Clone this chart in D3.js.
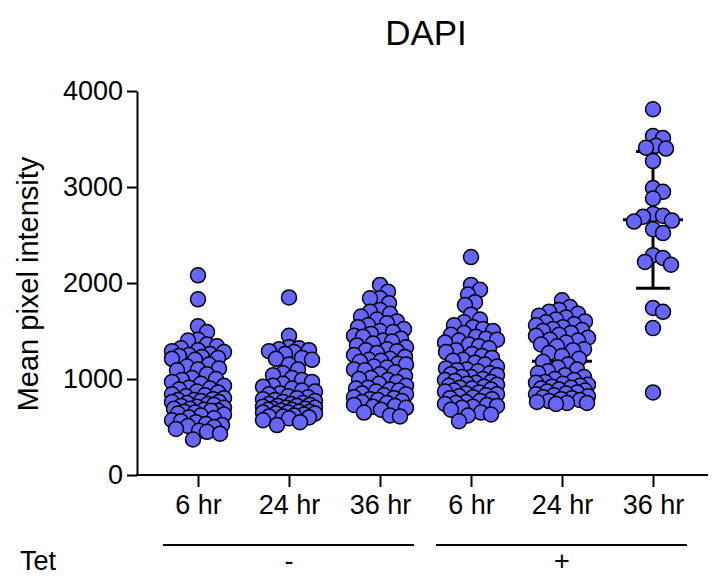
<!DOCTYPE html>
<html>
<head>
<meta charset="utf-8">
<script src="https://cdn.jsdelivr.net/npm/d3@7"></script>
<style>
  html, body { margin: 0; padding: 0; background: #ffffff; }
  svg { display: block; font-family: "Liberation Sans", Arial, Helvetica, sans-serif; }
</style>
</head>
<body>
<svg id="chart" width="712" height="577"></svg>
<script>
// Time points along the x axis, and the Tet condition each belongs to
const timeLabels = ["6 hr", "24 hr", "36 hr", "6 hr", "24 hr", "36 hr"];
const tetGroups = [
  { label: "-", from: 0, to: 2 },
  { label: "+", from: 3, to: 5 }
];
const yTicks = [0, 1000, 2000, 3000, 4000];

// Mean pixel intensity per cell, one array per column
const tetMinus6h = [
  2080, 1830, 1550, 1490, 1410, 1400,
  1360, 1340, 1320, 1300, 1290,
  1280, 1260, 1250, 1240, 1230, 1220, 1210, 1200,
  1150, 1130, 1110, 1100,
  1090, 1050, 1010, 1000,
  990, 970, 950, 930, 910, 900,
  890, 870, 860, 840, 830, 820, 800,
  790, 780, 780, 770, 760, 760, 750, 740, 730, 720, 710, 700,
  690, 690, 680, 670, 670, 660, 650, 640, 630, 620, 600,
  590, 570, 560, 550, 530, 520, 510, 500,
  480, 460, 450, 430,
  370
];
const tetMinus24h = [
  1850, 1450,
  1330, 1320, 1310, 1300, 1290, 1280, 1260,
  1220, 1210, 1200, 1150,
  1100, 1060, 1040,
  1010, 990, 970, 950, 930, 920, 900,
  880, 870, 850, 840, 820, 810, 800,
  790, 780, 770, 760, 750, 740, 740, 730, 720, 720, 710, 700, 700,
  690, 690, 680, 680, 670, 660, 660, 650, 650, 640, 640, 630, 620, 610, 610, 600,
  590, 570, 550, 520
];
const tetMinus36h = [
  1980, 1910, 1840, 1840, 1790, 1720, 1700, 1680, 1650,
  1620, 1600, 1580, 1560, 1540, 1520, 1500,
  1490, 1470, 1450, 1440, 1420, 1400,
  1390, 1370, 1350, 1330, 1310, 1300,
  1290, 1270, 1250, 1230, 1210, 1200,
  1190, 1180, 1160, 1150, 1130, 1120, 1100,
  1090, 1070, 1050, 1030, 1010, 1000,
  990, 970, 950, 930, 910, 900,
  890, 880, 870, 850, 840, 830, 810, 800,
  790, 780, 770, 760, 750, 730, 720, 710, 700,
  680, 650, 620, 610
];
const tetPlus6h = [
  2270, 1980, 1930, 1880, 1800, 1770, 1670,
  1620, 1590, 1560, 1540, 1520, 1500,
  1480, 1460, 1440, 1420, 1410, 1400,
  1380, 1360, 1340, 1320, 1300,
  1280, 1260, 1240, 1220, 1200,
  1190, 1170, 1150, 1130, 1110, 1100,
  1090, 1080, 1060, 1050, 1040, 1020, 1020, 1000,
  990, 980, 970, 960, 950, 940, 930, 920, 910, 900,
  890, 880, 870, 860, 850, 840, 830, 820, 810, 800,
  790, 770, 760, 750, 740, 730, 720, 710, 700,
  680, 650, 630, 620,
  560
];
const tetPlus24h = [
  1820, 1750, 1720, 1700, 1680, 1660, 1640, 1620, 1600, 1590,
  1570, 1560, 1540, 1520, 1510, 1500,
  1480, 1460, 1450, 1430, 1410, 1400,
  1380, 1360, 1340, 1310, 1300,
  1270, 1240, 1210,
  1180, 1150, 1120, 1100,
  1080, 1060, 1040, 1020, 1000,
  990, 970, 960, 950, 940, 930, 920, 910, 900,
  890, 880, 870, 860, 850, 840, 830, 820, 810, 800,
  790, 780, 770, 760, 750, 750, 740
];
const tetPlus36h = [
  3810, 3530, 3510, 3430, 3410, 3400, 3270,
  2990, 2950, 2880,
  2720, 2700, 2690, 2650, 2640, 2560, 2520,
  2290, 2260, 2220, 2190,
  1740, 1700, 1530, 860
];

const columns = [tetMinus6h, tetMinus24h, tetMinus36h, tetPlus6h, tetPlus24h, tetPlus36h];

const svg = d3.select("#chart");
const dotFill = "#6666ff";
const dotR = 7.5;

const y = d3.scaleLinear().domain([0, 4000]).range([475, 91]);
const x = d3.scalePoint().domain(d3.range(timeLabels.length)).range([198, 653]);

// Title
svg.append("text")
  .attr("x", 426).attr("y", 45)
  .attr("text-anchor", "middle")
  .attr("font-size", 35)
  .text("DAPI");

// Y axis
const yAxis = svg.append("g")
  .attr("transform", "translate(137,0)")
  .call(d3.axisLeft(y).tickValues(yTicks).tickSize(10).tickSizeOuter(0).tickPadding(4).tickFormat(d3.format("d")));
yAxis.select(".domain").attr("stroke-width", 2);
yAxis.selectAll(".tick line").attr("stroke-width", 2);
yAxis.selectAll(".tick text").attr("font-size", 27).attr("font-family", null).attr("fill", "#000");

svg.append("text")
  .attr("transform", "translate(38,284) rotate(-90)")
  .attr("text-anchor", "middle")
  .attr("font-size", 29)
  .text("Mean pixel intensity");

// X axis: baseline spans the full plot width, ticks at each column
svg.append("line")
  .attr("x1", 136).attr("x2", 708)
  .attr("y1", 475).attr("y2", 475)
  .attr("stroke", "#000").attr("stroke-width", 2);
const xAxis = svg.append("g")
  .attr("transform", "translate(0,475)")
  .call(d3.axisBottom(x).tickSize(12).tickSizeOuter(0).tickPadding(8).tickFormat(i => timeLabels[i]));
xAxis.select(".domain").remove();
xAxis.selectAll(".tick line").attr("stroke-width", 2);
xAxis.selectAll(".tick text").attr("font-size", 27).attr("font-family", null).attr("fill", "#000");

// Tet grouping under the time labels
svg.append("text")
  .attr("x", 20).attr("y", 570)
  .attr("font-size", 27)
  .text("Tet");
const groupG = svg.selectAll("g.tet").data(tetGroups).join("g").attr("class", "tet");
groupG.append("line")
  .attr("x1", d => x(d.from) - 35)
  .attr("x2", d => x(d.to) + 34)
  .attr("y1", 545).attr("y2", 545)
  .attr("stroke", "#000").attr("stroke-width", 2);
groupG.append("text")
  .attr("x", d => (x(d.from) + x(d.to)) / 2)
  .attr("y", 570)
  .attr("text-anchor", "middle")
  .attr("font-size", 27)
  .text(d => d.label);

// Column scatter layout: each value keeps its y, x is nudged sideways to limit overlap
function scatterLayout(values, cx) {
  const minDist = 10, maxOff = 26;
  const offsets = [0];
  for (let k = 1; k <= maxOff; k++) offsets.push(k, -k);
  const order = d3.range(values.length).sort((a, b) => values[b] - values[a]);
  const placed = [];
  const out = new Array(values.length);
  for (const i of order) {
    const py = y(values[i]);
    let best = null, bestScore = -Infinity;
    for (const off of offsets) {
      const px = cx + off;
      let m = Infinity;
      for (const p of placed) {
        if (Math.abs(p.y - py) >= minDist) continue;
        const d = Math.hypot(p.x - px, p.y - py);
        if (d < m) m = d;
      }
      if (m >= minDist) { best = px; break; }
      if (m > bestScore) { bestScore = m; best = px; }
    }
    const pt = { x: best, y: py, v: values[i] };
    placed.push(pt);
    out[i] = pt;
  }
  return out;
}

const summary = columns.map((vals, i) => ({
  i,
  mean: d3.mean(vals),
  sd: d3.deviation(vals)
}));

// Mean and SD bars
const bars = svg.selectAll("g.stat").data(summary).join("g").attr("class", "stat")
  .attr("stroke", "#000").attr("stroke-width", 3);
bars.append("line")
  .attr("x1", d => x(d.i)).attr("x2", d => x(d.i))
  .attr("y1", d => y(d.mean + d.sd)).attr("y2", d => y(d.mean - d.sd));
bars.append("line")
  .attr("x1", d => x(d.i) - 17).attr("x2", d => x(d.i) + 17)
  .attr("y1", d => y(d.mean + d.sd)).attr("y2", d => y(d.mean + d.sd));
bars.append("line")
  .attr("x1", d => x(d.i) - 17).attr("x2", d => x(d.i) + 17)
  .attr("y1", d => y(d.mean - d.sd)).attr("y2", d => y(d.mean - d.sd));
bars.append("line")
  .attr("x1", d => x(d.i) - 30).attr("x2", d => x(d.i) + 30)
  .attr("y1", d => y(d.mean)).attr("y2", d => y(d.mean));

// Individual cells
columns.forEach((vals, i) => {
  const pts = scatterLayout(vals, x(i));
  svg.append("g")
    .selectAll("circle")
    .data(pts)
    .join("circle")
    .attr("cx", d => d.x)
    .attr("cy", d => d.y)
    .attr("r", dotR)
    .attr("fill", dotFill)
    .attr("stroke", "#000")
    .attr("stroke-width", 1.5);
});
</script>
</body>
</html>
